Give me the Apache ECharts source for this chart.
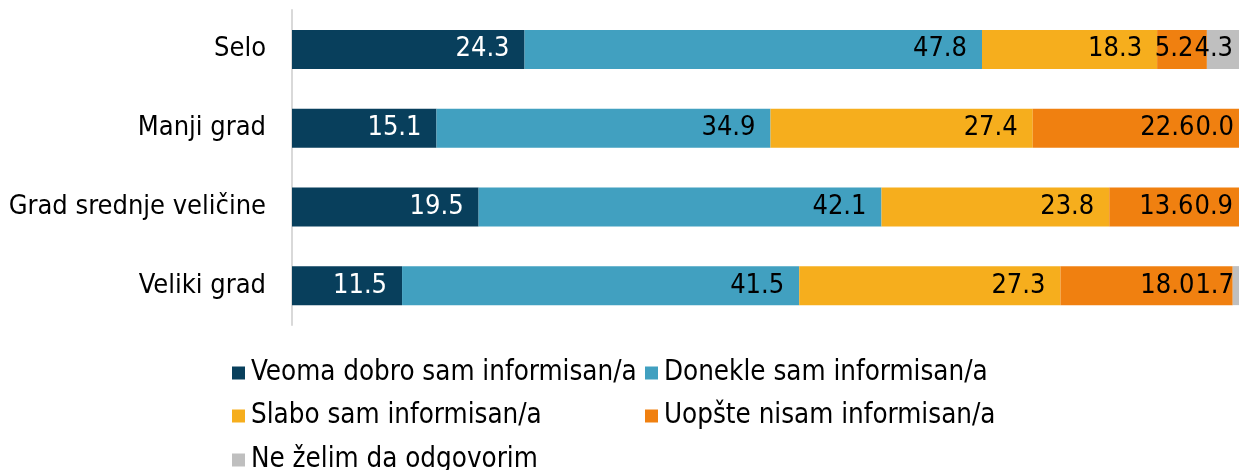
<!DOCTYPE html>
<html>
<head>
<meta charset="utf-8">
<script src="https://cdn.jsdelivr.net/npm/echarts@6/dist/echarts.min.js"></script>
<style>
html,body{margin:0;padding:0;background:#fff;}
#chart{width:1239px;height:470px;}
</style>
</head>
<body>
<div id="chart"></div>
<script>
var categories = ['Selo', 'Manji grad', 'Grad srednje veličine', 'Veliki grad'];
var seriesNames = ['Veoma dobro sam informisan/a', 'Donekle sam informisan/a', 'Slabo sam informisan/a', 'Uopšte nisam informisan/a', 'Ne želim da odgovorim'];
var veomaDobro = [24.3, 15.1, 19.5, 11.5];
var donekle = [47.8, 34.9, 42.1, 41.5];
var slabo = [18.3, 27.4, 23.8, 27.3];
var uopste = [5.2, 22.6, 13.6, 18.0];
var neZelim = [4.3, 0.0, 0.9, 1.7];

var colors = ['#083f5c', '#41a0c0', '#f6ae1d', '#f08010', '#bfbfbf'];
var labelColors = ['#ffffff', '#000000', '#000000', '#000000', '#000000'];
var fontFamily = '"DejaVu Sans Condensed", "DejaVu Sans", sans-serif';
var fontSize = 27;
var labelDist = 15;

// sirina teksta za oznaku sive serije
var measureCtx = document.createElement('canvas').getContext('2d');
measureCtx.font = fontSize + 'px ' + fontFamily;
function textWidth(s){
	return measureCtx.measureText(s).width;
}

var allValues = [veomaDobro, donekle, slabo, uopste, neZelim];

function makeSeries(idx){
	var s = {
		name: seriesNames[idx],
		type: 'bar',
		stack: 'total',
		barWidth: 39,
		data: allValues[idx],
		itemStyle: { color: colors[idx] },
		label: {
			show: true,
			position: 'insideRight',
			distance: labelDist,
			color: labelColors[idx],
			fontFamily: fontFamily,
			fontSize: fontSize,
			formatter: function(p){ return p.value.toFixed(1); }
		}
	};
	if(idx === 3){
		// oznaka narandzaste serije staje odmah lijevo od oznake sive
		s.labelLayout = function(p){
			var i = p.dataIndex;
			var scale = p.rect.width / uopste[i];
			var grayEnd = p.rect.x + p.rect.width + neZelim[i] * scale;
			var grayW = textWidth(neZelim[i].toFixed(1));
			return {
				x: grayEnd - labelDist - grayW - 1,
				y: p.rect.y + p.rect.height / 2,
				align: 'right',
				verticalAlign: 'middle'
			};
		};
	}
	return s;
}

// legenda: jedna stavka po komponenti, rucno rasporedjene u 2 kolone
function makeLegend(idx, left, top){
	return {
		left: left, top: top, padding: 0,
		icon: 'rect', itemWidth: 13, itemHeight: 13,
		data: [seriesNames[idx]],
		textStyle: { color: '#000', fontFamily: fontFamily, fontSize: 27.5, lineHeight: 28, padding: [0, 0, 0, 1] }
	};
}

var option = {
	animation: false,
	grid: { left: 292, right: -10, top: 10, bottom: 145, containLabel: false, outerBoundsMode: 'none' },
	xAxis: { type: 'value', min: 0, max: 100, show: false },
	yAxis: {
		type: 'category',
		data: categories,
		inverse: true,
		axisLine: { show: true, lineStyle: { color: '#d9d9d9', width: 2 } },
		axisTick: { show: false },
		axisLabel: { color: '#000', fontFamily: fontFamily, fontSize: fontSize, margin: 26 }
	},
	legend: [
		makeLegend(0, 232, 359),
		makeLegend(1, 645, 359),
		makeLegend(2, 232, 402),
		makeLegend(3, 645, 402),
		makeLegend(4, 232, 446)
	],
	series: [makeSeries(0), makeSeries(1), makeSeries(2), makeSeries(3), makeSeries(4)]
};

var myChart = echarts.init(document.getElementById('chart'), null, { renderer: 'canvas' });
myChart.setOption(option);
</script>
</body>
</html>
